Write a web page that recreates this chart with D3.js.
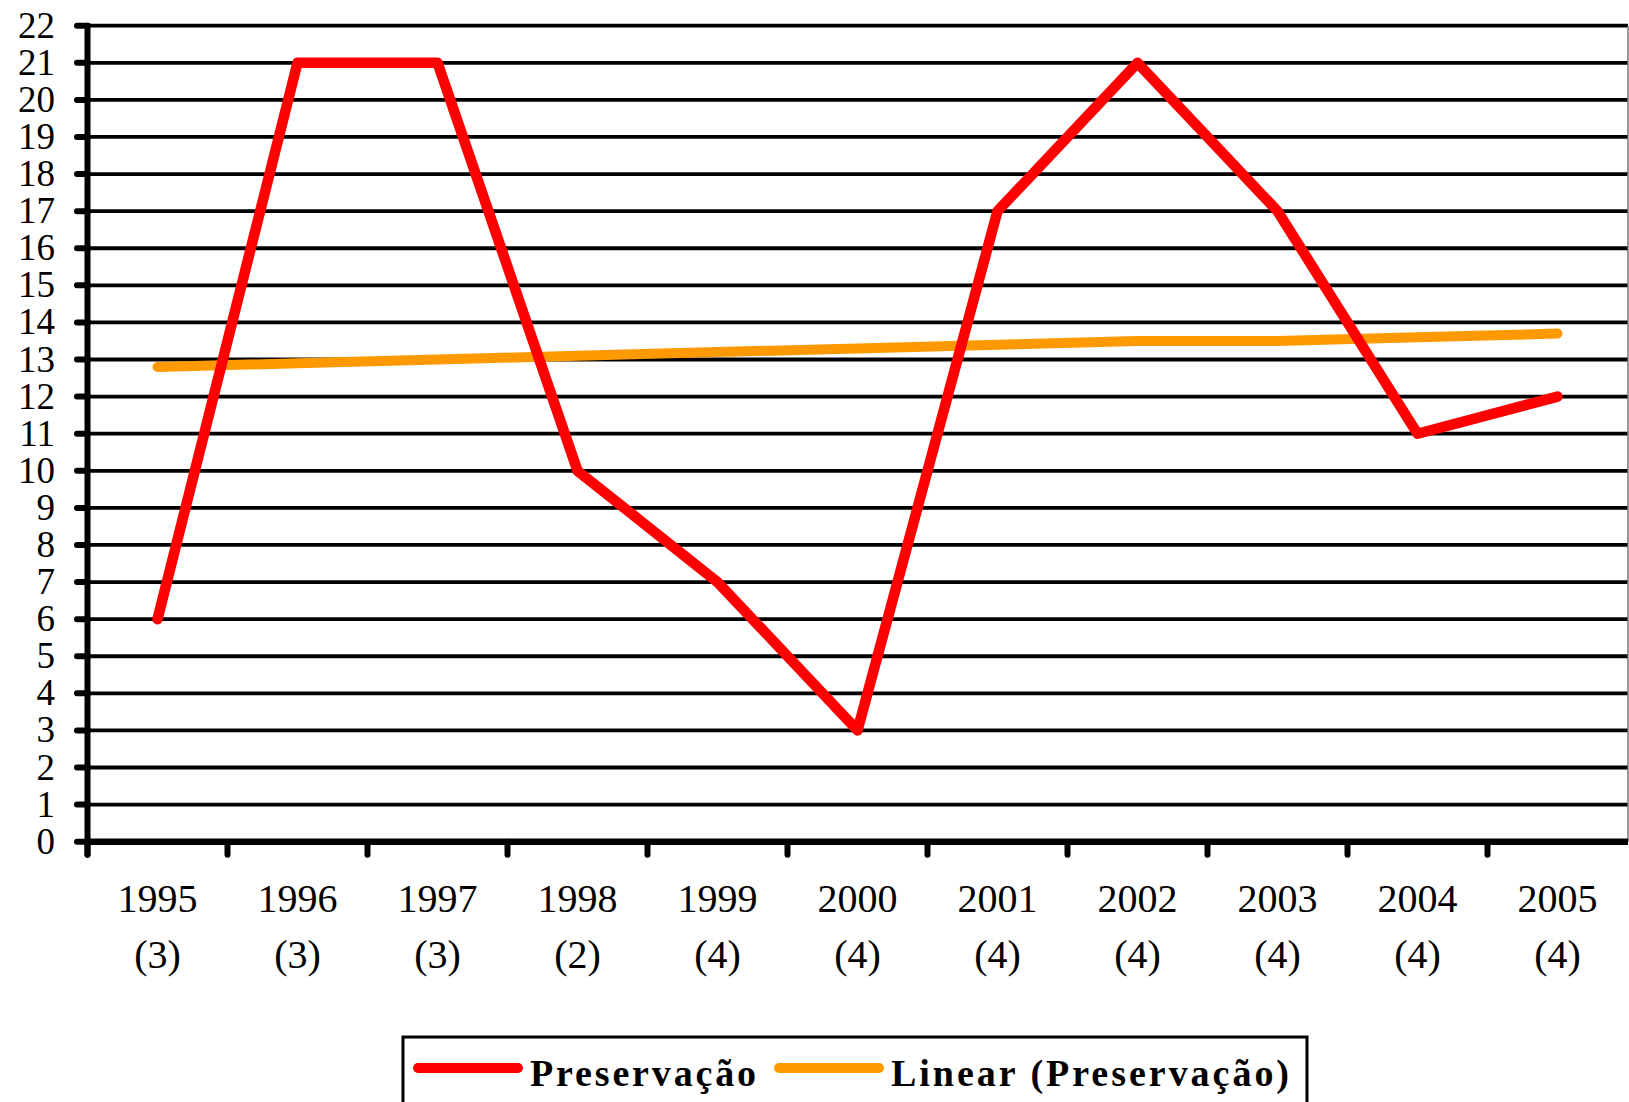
<!DOCTYPE html>
<html>
<head>
<meta charset="utf-8">
<script src="https://cdn.jsdelivr.net/npm/d3@7"></script>
<style>
  body { margin: 0; background: #fff; }
  text { font-family: "Liberation Serif", "Times New Roman", serif; fill: #000; }
</style>
</head>
<body>
<div id="chart"></div>
<script>
// categories: year + number shown under it
var years = ["1995", "1996", "1997", "1998", "1999", "2000", "2001", "2002", "2003", "2004", "2005"];
var counts = ["(3)", "(3)", "(3)", "(2)", "(4)", "(4)", "(4)", "(4)", "(4)", "(4)", "(4)"];

// series values
var preservacao = [6, 21, 21, 10, 7, 3, 17, 21, 17, 11, 12];
var linearPreservacao = [12.8, 12.9, 13.0, 13.1, 13.2, 13.3, 13.4, 13.5, 13.5, 13.6, 13.7];

var yTicks = d3.range(0, 23);
var legendLabels = ["Preservação", "Linear (Preservação)"];

var width = 1629,
  height = 1102;

var svg = d3
  .select("#chart")
  .append("svg")
  .attr("width", width)
  .attr("height", height);

var x = d3.scaleBand().domain(years).range([87.5, 1627.5]);
var y = d3.scaleLinear().domain([0, 22]).range([841.7, 25.7]);

//horizontal gridlines
svg
  .selectAll(".grid")
  .data(yTicks.filter(function(d) { return d > 0; }))
  .enter()
  .append("line")
  .attr("x1", 87.5)
  .attr("x2", 1628)
  .attr("y1", function(d) { return y(d); })
  .attr("y2", function(d) { return y(d); })
  .attr("stroke", "#000")
  .attr("stroke-width", 3.8);

//thin right border of the plot area
svg
  .append("line")
  .attr("x1", 1628)
  .attr("x2", 1628)
  .attr("y1", y(22))
  .attr("y2", y(0))
  .attr("stroke", "#777")
  .attr("stroke-width", 1.5);

//y axis ticks and labels
var yAxis = svg.append("g");
yAxis
  .selectAll("line")
  .data(yTicks)
  .enter()
  .append("line")
  .attr("x1", 77)
  .attr("x2", 88)
  .attr("y1", function(d) { return y(d); })
  .attr("y2", function(d) { return y(d); })
  .attr("stroke", "#000")
  .attr("stroke-width", 6)
  .attr("stroke-linecap", "round");
yAxis
  .selectAll("text")
  .data(yTicks)
  .enter()
  .append("text")
  .attr("x", 55)
  .attr("y", function(d) { return y(d) + 12; })
  .attr("text-anchor", "end")
  .attr("font-size", 37)
  .text(function(d) { return d; });

//x axis ticks at category boundaries
var boundaries = years.map(function(d) { return x(d); });
svg
  .selectAll(".xtick")
  .data(boundaries)
  .enter()
  .append("line")
  .attr("x1", function(d) { return d; })
  .attr("x2", function(d) { return d; })
  .attr("y1", y(0))
  .attr("y2", y(0) + 13)
  .attr("stroke", "#000")
  .attr("stroke-width", 6)
  .attr("stroke-linecap", "round");

//axis lines
svg
  .append("line")
  .attr("x1", 87.5)
  .attr("x2", 1628)
  .attr("y1", y(0))
  .attr("y2", y(0))
  .attr("stroke", "#000")
  .attr("stroke-width", 6.5);
svg
  .append("line")
  .attr("x1", 87.5)
  .attr("x2", 87.5)
  .attr("y1", y(22))
  .attr("y2", y(0) + 13)
  .attr("stroke", "#000")
  .attr("stroke-width", 6)
  .attr("stroke-linecap", "round");

//x labels, two lines each
var xLabels = svg
  .selectAll(".xlabel")
  .data(years)
  .enter()
  .append("g");
xLabels
  .append("text")
  .attr("x", function(d) { return x(d) + x.bandwidth() / 2; })
  .attr("y", 912)
  .attr("text-anchor", "middle")
  .attr("font-size", 40)
  .text(function(d) { return d; });
xLabels
  .append("text")
  .attr("x", function(d) { return x(d) + x.bandwidth() / 2; })
  .attr("y", 968)
  .attr("text-anchor", "middle")
  .attr("font-size", 40)
  .text(function(d, i) { return counts[i]; });

var line = d3
  .line()
  .x(function(d, i) { return x(years[i]) + x.bandwidth() / 2; })
  .y(function(d) { return y(d); });

//trend line
svg
  .append("path")
  .attr("d", line(linearPreservacao))
  .attr("fill", "none")
  .attr("stroke", "#FF9900")
  .attr("stroke-width", 10)
  .attr("stroke-linejoin", "round")
  .attr("stroke-linecap", "round");

//main series
svg
  .append("path")
  .attr("d", line(preservacao))
  .attr("fill", "none")
  .attr("stroke", "#FF0000")
  .attr("stroke-width", 10.5)
  .attr("stroke-linejoin", "round")
  .attr("stroke-linecap", "round");

//legend
var legend = svg.append("g");
legend
  .append("rect")
  .attr("x", 403)
  .attr("y", 1037)
  .attr("width", 904)
  .attr("height", 100)
  .attr("fill", "#fff")
  .attr("stroke", "#000")
  .attr("stroke-width", 3);

var legendItems = [
  { label: legendLabels[0], color: "#FF0000", x1: 418, x2: 518, tx: 530, tw: 226 },
  { label: legendLabels[1], color: "#FF9900", x1: 779, x2: 879, tx: 891, tw: 398 }
];
legendItems.forEach(function(item) {
  legend
    .append("line")
    .attr("x1", item.x1)
    .attr("x2", item.x2)
    .attr("y1", 1068)
    .attr("y2", 1068)
    .attr("stroke", item.color)
    .attr("stroke-width", 10)
    .attr("stroke-linecap", "round");
  legend
    .append("text")
    .attr("x", item.tx)
    .attr("y", 1086)
    .attr("font-size", 38)
    .attr("font-weight", "bold")
    .attr("textLength", item.tw)
    .attr("lengthAdjust", "spacing")
    .text(item.label);
});
</script>
</body>
</html>
